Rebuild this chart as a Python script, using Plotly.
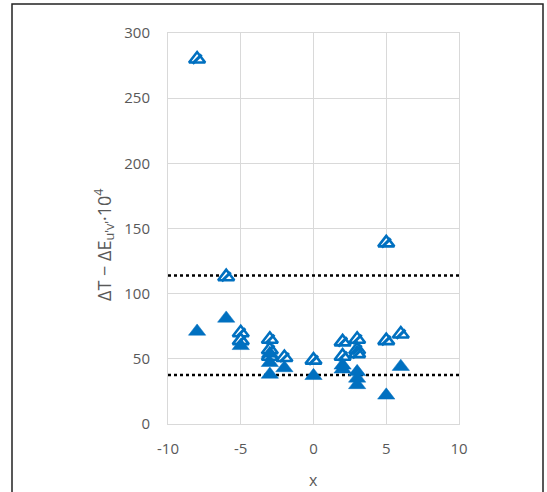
import plotly.graph_objects as go

# Hatched (open) triangle series
open_x = [-8, -6, -5, -5, -3, -3, -3, -2, 0, 2, 2, 3, 3, 3, 5, 5, 6]
open_y = [280, 113, 70, 64, 65, 57, 52, 51, 49, 63, 52, 65, 57, 54, 139, 64, 69]

# Solid triangle series
filled_x = [-8, -6, -5, -3, -3, -3, -2, 0, 2, 2, 3, 3, 3, 5, 6]
filled_y = [71, 81, 60, 54, 47, 38, 43, 37, 45, 42, 40, 35, 30, 22, 44]

# Dotted reference levels
ref_levels = [114, 37.5]

x_ticks = [-10, -5, 0, 5, 10]
x_labels = ["-10", "-5", "0", "5", "10"]
y_ticks = [0, 50, 100, 150, 200, 250, 300]

BLUE = "#0070C0"
GRID = "#D9D9D9"
TXT = "#595959"
FONT = "Open Sans"

fig = go.Figure()

for lvl in ref_levels:
    fig.add_trace(go.Scatter(
        x=[x_ticks[0], x_ticks[-1]], y=[lvl, lvl], mode="lines",
        line=dict(color="black", width=2.5, dash="dot"),
        hoverinfo="skip", showlegend=False,
    ))

fig.add_trace(go.Scatter(
    x=open_x, y=open_y, mode="markers", showlegend=False,
    marker=dict(symbol="triangle-up", size=14, color="white",
                line=dict(color=BLUE, width=2.6)),
))
# diagonal hatch stroke inside the open triangles
fig.add_trace(go.Scatter(
    x=open_x, y=open_y, mode="markers", showlegend=False, hoverinfo="skip",
    marker=dict(symbol="line-ne", size=9, color=BLUE,
                line=dict(color=BLUE, width=3)),
))
fig.add_trace(go.Scatter(
    x=filled_x, y=filled_y, mode="markers", showlegend=False,
    marker=dict(symbol="triangle-up", size=15, color=BLUE,
                line=dict(color=BLUE, width=0.5)),
))

L, R, T, B = 168, 459, 33, 424
W, H = 547, 492
pw, ph = R - L, B - T


def px(xp):
    return (xp - L) / pw


def py(yp):
    return (B - yp) / ph


axis_common = dict(
    showgrid=True, gridcolor=GRID, gridwidth=1,
    showline=True, linecolor=GRID, linewidth=1, mirror=True,
    zeroline=False, ticks="",
    tickfont=dict(family=FONT, size=15, color=TXT),
)

fig.update_xaxes(range=[-10, 10], tickvals=x_ticks, ticktext=x_labels,
                 ticklabelstandoff=11, **axis_common)
fig.update_yaxes(range=[0, 300], tickvals=y_ticks, ticklabelstandoff=14,
                 **axis_common)

fig.update_layout(
    width=W, height=H,
    margin=dict(l=L, r=W - R, t=T, b=H - B, pad=0),
    paper_bgcolor="white", plot_bgcolor="white",
    annotations=[
        dict(text="ΔT − ΔE<sub>u'v'</sub>·10<sup>4</sup>", textangle=-90,
             xref="paper", yref="paper", x=px(104), y=py(245),
             xanchor="center", yanchor="middle", showarrow=False,
             font=dict(family=FONT, size=18, color=TXT)),
        dict(text="x", xref="paper", yref="paper", x=px(313), y=py(480),
             xanchor="center", yanchor="middle", showarrow=False,
             font=dict(family=FONT, size=16, color=TXT)),
    ],
    shapes=[
        dict(type="rect", xref="paper", yref="paper",
             x0=px(12), x1=px(543), y0=py(500), y1=py(4),
             line=dict(color="#222222", width=1.5), fillcolor="rgba(0,0,0,0)"),
    ],
)

fig.write_html("out.html")
